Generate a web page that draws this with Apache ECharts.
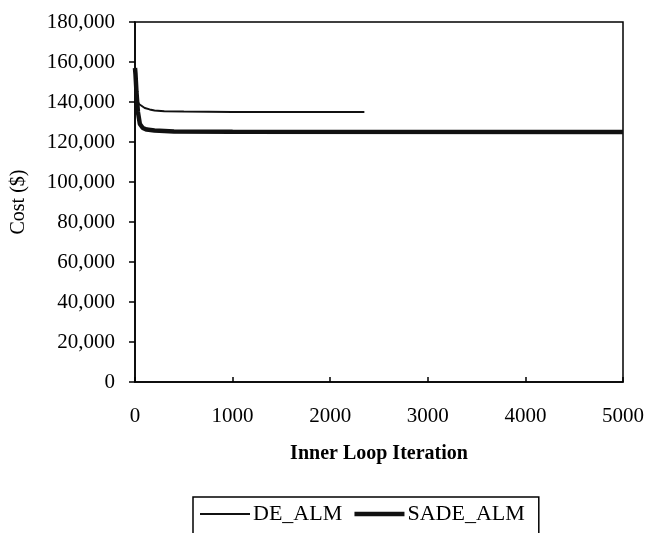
<!DOCTYPE html>
<html>
<head>
<meta charset="utf-8">
<script src="https://cdn.jsdelivr.net/npm/echarts@6/dist/echarts.min.js"></script>
<style>
html,body{margin:0;padding:0;background:#fff;}
#chart{width:647px;height:533px;}
</style>
</head>
<body>
<div id="chart"></div>
<script>
var seriesNames = ['DE_ALM', 'SADE_ALM'];
var deIter = [0, 10, 20, 40, 60, 100, 150, 200, 300, 500, 1000, 2350];
var deCost = [150000, 145000, 141000, 139000, 138000, 137000, 136300, 135800, 135400, 135200, 135000, 135000];
var sadeIter = [0, 5, 15, 30, 50, 80, 120, 200, 400, 1000, 5000];
var sadeCost = [157000, 154000, 145000, 135000, 129000, 127000, 126200, 125700, 125300, 125100, 125000];
var xTicks = [0, 1000, 2000, 3000, 4000, 5000];
var yTicks = [0, 20000, 40000, 60000, 80000, 100000, 120000, 140000, 160000, 180000];

function pairs(xs, ys) { return xs.map(function (x, i) { return [x, ys[i]]; }); }

var font = 'Liberation Serif';
var chart = echarts.init(document.getElementById('chart'), null, {renderer: 'canvas'});
chart.setOption({
  backgroundColor: '#ffffff',
  animation: false,
  grid: {left: 135, right: 23, top: 22, bottom: 151, show: true, borderColor: '#000', borderWidth: 1.5},
  xAxis: {
    type: 'value', min: xTicks[0], max: xTicks[xTicks.length - 1], interval: 1000,
    name: 'Inner Loop Iteration', nameLocation: 'middle', nameGap: 62,
    nameTextStyle: {fontFamily: font, fontSize: 20, fontWeight: 'bold', color: '#000'},
    axisLine: {lineStyle: {color: '#000', width: 1.5}},
    axisTick: {inside: true, length: 5, lineStyle: {color: '#000', width: 1.5}},
    axisLabel: {fontFamily: font, fontSize: 21, color: '#000', margin: 24,
      formatter: function (v) { return String(v); }},
    splitLine: {show: false}
  },
  yAxis: {
    type: 'value', min: yTicks[0], max: yTicks[yTicks.length - 1], interval: 20000,
    name: 'Cost ($)', nameLocation: 'middle', nameGap: 106, nameRotate: 90,
    nameTextStyle: {fontFamily: font, fontSize: 20, color: '#000'},
    axisLine: {show: true, lineStyle: {color: '#000', width: 1.5}},
    axisTick: {show: true, length: 6, lineStyle: {color: '#000', width: 1.5}},
    axisLabel: {fontFamily: font, fontSize: 21, color: '#000', margin: 20,
      formatter: function (v) { return v.toLocaleString('en-US'); }},
    splitLine: {show: false}
  },
  legend: {
    data: [
      {name: seriesNames[0], itemStyle: {opacity: 0}, lineStyle: {width: 2, color: '#111'}},
      {name: seriesNames[1], itemStyle: {opacity: 0}, lineStyle: {width: 4.5, color: '#111'}}
    ],
    left: 193, top: 497,
    padding: [6, 14, 30, 6],
    borderColor: '#000', borderWidth: 1.5,
    itemWidth: 50, itemHeight: 14, itemGap: 10,
    textStyle: {fontFamily: font, fontSize: 22, color: '#000', padding: [0, 0, 0, -2]}
  },
  series: [
    {name: seriesNames[0], type: 'line', data: pairs(deIter, deCost), showSymbol: false, symbol: 'none',
      lineStyle: {color: '#111', width: 2}, itemStyle: {color: '#111'}},
    {name: seriesNames[1], type: 'line', data: pairs(sadeIter, sadeCost), showSymbol: false, symbol: 'none',
      lineStyle: {color: '#111', width: 4.5}, itemStyle: {color: '#111'}}
  ]
});
</script>
</body>
</html>
